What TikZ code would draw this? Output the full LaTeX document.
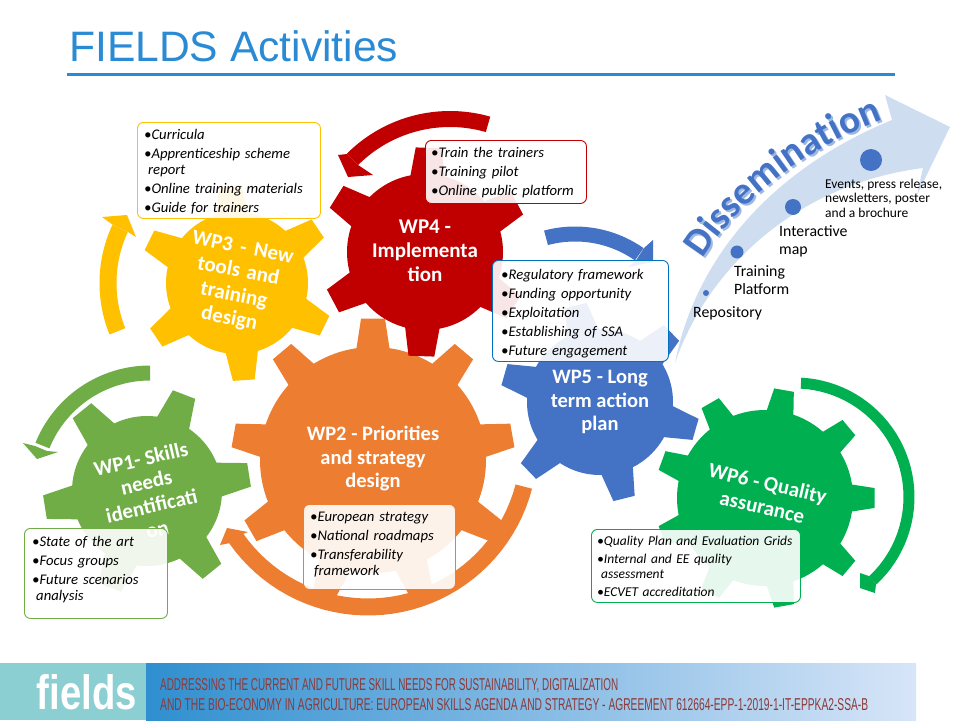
\documentclass[tikz,border=0pt]{standalone}
\usepackage{fontspec}
\usepackage{graphicx}
\setmainfont{Carlito}
\newfontfamily\libfont{Liberation Sans}
\usetikzlibrary{decorations.text}
\definecolor{cYel}{HTML}{FFC000}
\definecolor{cRed}{HTML}{C00000}
\definecolor{cOra}{HTML}{ED7D31}
\definecolor{cGre}{HTML}{70AD47}
\definecolor{cBlu}{HTML}{4472C4}
\definecolor{cEme}{HTML}{00B050}
\definecolor{cBox}{HTML}{0070C0}
\definecolor{cTitle}{HTML}{2A8AD4}
\definecolor{cBand}{HTML}{CFDDF0}
\definecolor{cShad}{HTML}{9DB8E3}
\definecolor{cTeal}{HTML}{8CCFD3}
\definecolor{cFootL}{HTML}{2F8FCF}
\definecolor{cFootR}{HTML}{D7E5F8}
\definecolor{cFootT}{HTML}{8B3A3A}
\newcommand\gear[9]{% cx cy R Rt n start wr wt color
  \begin{scope}[shift={(#1,#2)}]
    \fill[#9] (0,0) circle [radius=#3pt];
    \pgfmathsetmacro\gstep{360/#5}
    \pgfmathtruncatemacro\glast{#5-1}
    \foreach \gi in {0,...,\glast}{
      \pgfmathsetmacro\ga{#6+\gi*\gstep}
      \fill[#9] ({\ga-atan(#7/(#3-2))}:{#3-2}) -- ({\ga-atan(#8/#4)}:#4) -- ({\ga+atan(#8/#4)}:#4) -- ({\ga+atan(#7/(#3-2))}:{#3-2}) -- cycle;
    }
  \end{scope}}
\newcommand\arcband[7]{% cx cy R w a1 a2 colour
  \fill[#7,shift={(#1,#2)}] plot[domain=#5:#6,samples=40,variable=\t] (\t:{#3+#4/2}) -- plot[domain=#6:#5,samples=40,variable=\t] (\t:{#3-#4/2}) -- cycle;}
\newcommand\itm[1]{\par\hangindent=4pt\hangafter=1\noindent\textbullet#1\par}
\tikzset{
  gearlabel/.style={text=white,font=\bfseries\fontsize{21}{24}\selectfont,align=center,inner sep=0pt},
  wpbox/.style={draw=#1,line width=0.9pt,rounded corners=6pt,fill=white,fill opacity=0.9,anchor=north west,inner sep=0pt},
  boxtext/.style={anchor=north west,inner sep=0pt,font=\itshape\fontsize{14.7}{16}\selectfont,text width=#1,align=left},
  disslabel/.style={anchor=base west,inner sep=0pt,align=left,font=\fontsize{15.8}{18}\selectfont},
  dissdot/.style={fill=cBlu,circle,inner sep=0pt,minimum size=#1}
}
\begin{document}
\begin{tikzpicture}[x=1pt,y=-1pt]
\useasboundingbox (0,0) rectangle (960,720);
\fill[white] (0,0) rectangle (960,720);
% title
\node[anchor=base west,inner sep=0pt,text=cTitle,font=\libfont\fontsize{42.6}{46}\selectfont] (title) at (69,61) {FIELDS Activities};
\coordinate (ruleL) at (67,74);
\coordinate (ruleR) at (895,74);
\draw[cTitle,line width=3pt] (ruleL) -- (ruleR);
% dissemination arrow
\fill[cBand] (675,363) .. controls (695,260) and (770,170) .. (892,120) -- (885,95) -- (950,127) -- (917,195) -- (923,168) .. controls (790,185) and (705,275) .. (675,363) -- cycle;
\path[decorate,decoration={text along path,text align=center,text={|\bfseries\fontsize{39}{39}\selectfont\color{cShad}|Dissemination}}] (702,265) .. controls (737,207) and (802,152) .. (889,120);
\path[decorate,decoration={text along path,text align=center,text={|\bfseries\fontsize{39}{39}\selectfont\color{cBlu}|Dissemination}}] (700,263) .. controls (735,205) and (800,150) .. (887,118);
\node[dissdot=6pt] (d1) at (706,293) {};
\node[dissdot=13pt] (d2) at (737,252) {};
\node[dissdot=16pt] (d3) at (793,207) {};
\node[dissdot=22pt] (d4) at (871,160) {};
\node[disslabel] (l1) at (693,317) {Repository};
\node[disslabel,anchor=north west] (l2) at (734,265) {Training\\Platform};
\node[disslabel,anchor=north west] (l3) at (779,225) {Interactive\\map};
\node[disslabel,anchor=north west,font=\fontsize{13.5}{14.6}\selectfont] (l4) at (825,178.5) {Events, press release,\\newsletters, poster\\and a brochure};
% gears
\gear{147}{491}{75}{104}{6}{-9}{18}{12}{cGre}
\gear{373}{460}{113}{142}{9}{-90}{17}{12}{cOra}
\gear{237}{283}{71}{98}{6}{26}{17}{11}{cYel}
\gear{425}{252}{78}{105}{6}{32}{18}{13}{cRed}
\gear{600}{402}{73}{100}{6}{16}{17}{11}{cBlu}
\gear{765}{498}{88}{110}{9}{0}{14}{10}{cEme}
% gear labels
\node[gearlabel,rotate=13] (g1) at (149,494) {WP1- Skills\\needs\\identificati\\on};
\node[gearlabel,font=\bfseries\fontsize{20.5}{23.5}\selectfont] (g2) at (373,459) {WP2 - Priorities\\and strategy\\design};
\node[gearlabel,rotate=-11] (g3) at (236,284) {WP3\hspace{3pt} -\hspace{3pt} New\\tools\hspace{2pt} and\\training\\design};
\node[gearlabel] (g4) at (425,251) {WP4 -\\Implementa\\tion};
\node[gearlabel,font=\bfseries\fontsize{20.5}{23.5}\selectfont] (g5) at (600,402) {WP5 - Long\\term action\\plan};
\node[gearlabel,rotate=-13] (g6) at (765,495) {WP6 - Quality\\assurance};
% curved arrows
\arcband{237}{283}{129}{17}{158}{205}{cYel}
\fill[cYel] (102,217) -- (127,215) -- (136,237) -- (128,232) -- (113,225) -- cycle;
\arcband{450}{257}{138}{16}{-74}{-135}{cRed}
\fill[cRed] (338,155) -- (348,177) -- (373,175) -- (358,165) -- (347,154) -- cycle;
\arcband{150}{489}{116}{15}{-90}{-158}{cGre}
\fill[cGre] (23,443) -- (37,459) -- (58,452) -- (47,451) -- (35,446) -- cycle;
\arcband{368}{446}{161}{17}{14.6}{145}{cOra}
\fill[cOra] (220,545) -- (227,528) -- (248,532) -- (243,534) -- (230,543) -- cycle;
\arcband{575}{346}{112}{15}{-105}{-55}{cBlu}
\fill[cBlu] (653,240) -- (653,262) -- (628,267) -- (635,262) -- (644,248) -- cycle;
\arcband{795}{497}{114}{11}{-87}{47}{cEme}
\fill[cEme] (860,573) -- (860,588) -- (875,593) -- (876,584) -- (869,576) -- cycle;
% boxes
\node[wpbox=cGre,minimum width=143pt,minimum height=90pt] (b1) at (24,528) {};
\node[boxtext=135pt] (t1) at (32,530) {\itm{State of the art}\vspace{3pt}\itm{Focus groups}\vspace{3pt}\itm{Future scenarios\newline analysis}};
\node[wpbox=cOra,minimum width=152pt,minimum height=85pt] (b2) at (303,504) {};
\node[boxtext=145pt] (t2) at (310,505) {\itm{European strategy}\vspace{3pt}\itm{National roadmaps}\vspace{3pt}\itm{Transferability\newline framework}};
\node[wpbox=cYel,minimum width=183pt,minimum height=96pt] (b3) at (137,122) {};
\node[boxtext=176pt] (t3) at (144,123) {\itm{Curricula}\vspace{3pt}\itm{Apprenticeship scheme\newline report}\vspace{3pt}\itm{Online training materials}\vspace{3pt}\itm{Guide for trainers}};
\node[wpbox=cRed,minimum width=161pt,minimum height=63pt] (b4) at (425,140) {};
\node[boxtext=155pt] (t4) at (431,141) {\itm{Train the trainers}\vspace{3pt}\itm{Training pilot}\vspace{3pt}\itm{Online public platform}};
\node[wpbox=cBox,minimum width=176pt,minimum height=101pt] (b5) at (492,260) {};
\node[boxtext=170pt] (t5) at (501,263) {\itm{Regulatory framework}\vspace{3pt}\itm{Funding opportunity}\vspace{3pt}\itm{Exploitation}\vspace{3pt}\itm{Establishing of SSA}\vspace{3pt}\itm{Future engagement}};
\node[wpbox=cEme,minimum width=209pt,minimum height=73pt] (b6) at (591,529) {};
\node[boxtext=203pt,font=\itshape\fontsize{13.5}{15}\selectfont] (t6) at (597,530) {\itm{Quality Plan and Evaluation Grids}\vspace{3pt}\itm{Internal and EE quality\newline assessment}\vspace{3pt}\itm{ECVET accreditation}};
% footer
\fill[cTeal] (0,663) rectangle (146,720);
\shade[left color=cFootL,right color=cFootR] (146,663) rectangle (916,720);
\node[inner sep=0pt,text=white] (fl) at (87,692) {\resizebox{100pt}{35pt}{\libfont\bfseries fields}};
\node[anchor=west,inner sep=0pt,text=cFootT] (f1) at (160,686) {\resizebox{458pt}{12pt}{\libfont ADDRESSING THE CURRENT AND FUTURE SKILL NEEDS FOR SUSTAINABILITY, DIGITALIZATION}};
\node[anchor=west,inner sep=0pt,text=cFootT] (f2) at (160,705) {\resizebox{708pt}{12pt}{\libfont AND THE BIO-ECONOMY IN AGRICULTURE: EUROPEAN SKILLS AGENDA AND STRATEGY - AGREEMENT 612664-EPP-1-2019-1-IT-EPPKA2-SSA-B}};
\end{tikzpicture}
\end{document}
